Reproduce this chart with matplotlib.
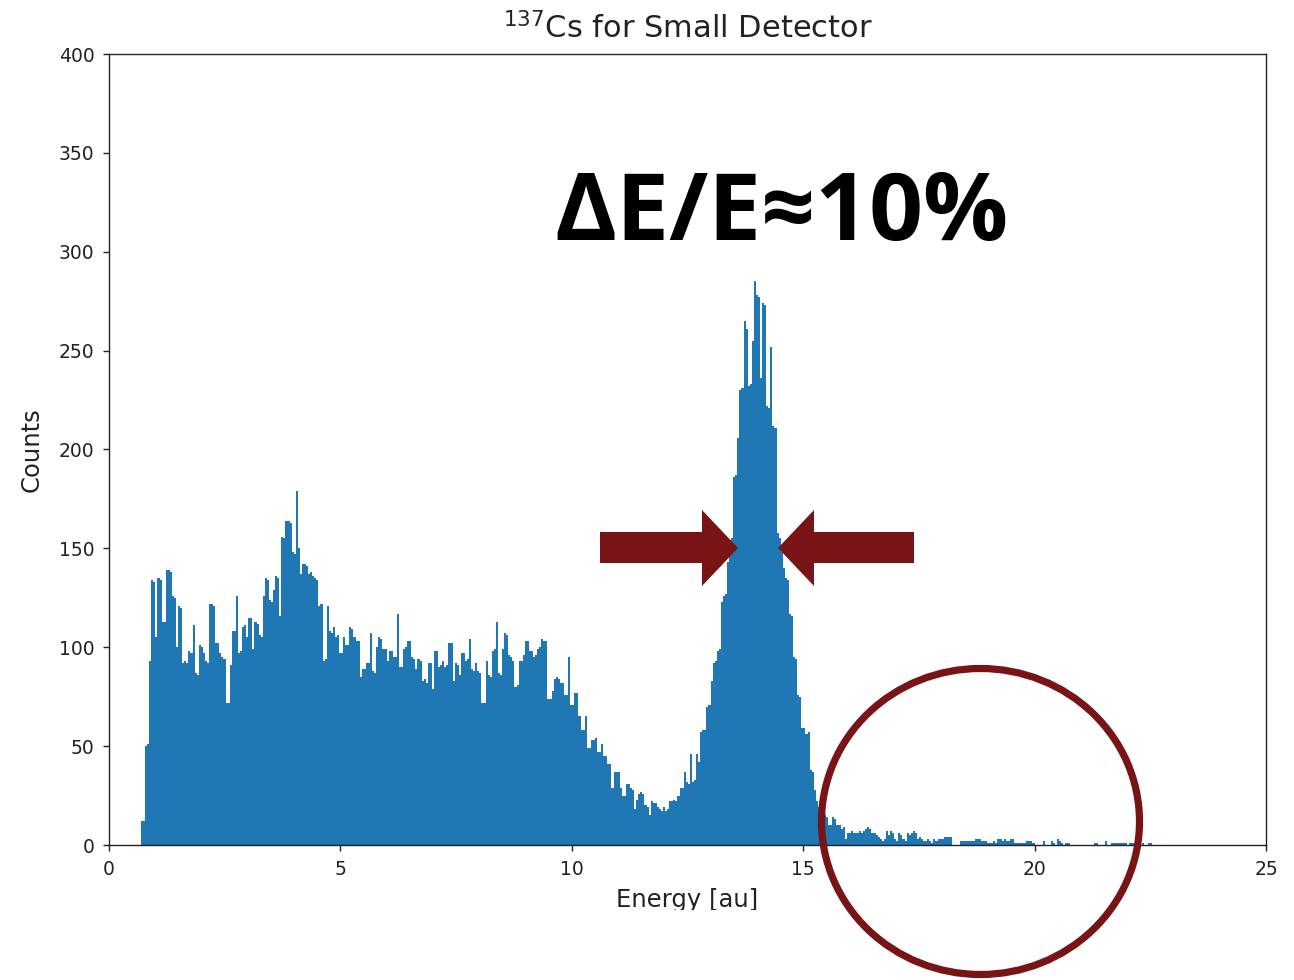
import numpy as np
import matplotlib
matplotlib.use("Agg")
import matplotlib.pyplot as plt
from matplotlib.patches import Polygon, Ellipse, Rectangle

# ---------------- data (counts per bin) ----------------
x_first, x_last = 0.69, 22.54          # range covered by the histogram bins

counts_low = [12, 12, 50, 51, 93, 134, 133, 105, 135, 134, 113, 113, 139, 139, 138,
              126, 125, 100, 121, 120, 92, 93, 92, 98, 97, 111, 87, 86, 101, 100, 97,
              93, 92, 122, 122, 121, 102, 102, 97, 95, 94, 72, 72, 91, 108, 108, 126,
              97, 98, 110, 111, 105, 115, 115, 99, 113, 112, 106, 105, 126, 135, 134,
              124, 123, 129, 136, 135, 116, 156, 155, 164, 164, 163, 148, 147, 179,
              150, 137, 142]

counts_compton_a = [142, 141, 137, 138, 136, 135, 134, 121, 122, 93,
                    94, 121, 108, 107, 110, 105, 106, 97, 97, 105,
                    101, 101, 110, 109, 105, 103, 103, 85, 89, 89,
                    92, 92, 107, 88, 87, 100, 105, 104, 99, 99,
                    93, 98, 98, 95, 95, 117, 90, 90, 99, 100,
                    103, 103, 95, 94, 89, 94, 93, 83, 84, 82,
                    92, 92, 79, 98, 98, 90, 91, 93, 90, 91,
                    102, 102, 83, 92, 91, 86, 97, 97, 93, 94, 104]

counts_compton_b = [89, 88, 92, 88, 87, 72, 72, 93, 86, 85,
                    98, 99, 113, 87, 86, 99, 107, 106, 96, 95,
                    93, 80, 81, 93, 93, 96, 103, 103, 98, 98,
                    95, 96, 99, 100, 104, 103, 103, 74, 74, 78,
                    84, 85, 84, 82, 82, 76, 76, 95, 71, 71,
                    77, 77, 65, 58, 58, 65, 49, 49, 53, 53,
                    54, 47, 47, 51, 45, 45, 41, 41, 29, 37,
                    37, 37, 29, 25, 25, 31, 31, 29, 28, 18]

counts_peak = [23, 26, 27, 26, 20, 19, 15, 22, 21, 21,
               19, 18, 17, 19, 17, 18, 22, 22, 23, 22,
               25, 29, 29, 37, 32, 31, 46, 32, 33, 46,
               42, 57, 58, 58, 70, 71, 83, 92, 93, 98,
               99, 123, 126, 127, 143, 154, 155, 186, 187, 206,
               230, 231, 265, 261, 232, 233, 255, 285, 278, 277,
               236, 274, 273, 222, 221, 252, 212, 211, 158, 155,
               148, 140, 135, 134, 117, 116, 95, 94, 76, 75,
               59, 59, 56, 57]

counts_tail = [38, 37, 28, 22, 19, 17, 15, 15, 14, 10,
               10, 14, 13, 10, 10, 8, 9, 3, 6, 6,
               7, 6, 6, 6, 7, 6, 7, 8, 9, 8,
               6, 6, 5, 4, 3, 2, 3, 7, 5, 7,
               6, 3, 2, 6, 5, 3, 2, 6, 5, 6,
               7, 6, 3, 4, 3, 2, 2, 3, 2, 1,
               3, 2, 3, 3, 3, 4, 4, 4, 4, 0,
               0, 0, 0, 2, 2, 2, 2, 2, 2, 2,
               3, 3, 3, 2, 2, 2, 1, 1, 1, 2,
               1, 3, 3, 2, 3, 2, 2, 3, 3, 1,
               1, 1, 1, 1, 1, 2, 2, 2, 1, 0,
               0, 0, 0, 2, 0, 0, 0, 2, 1, 0,
               3, 2, 1, 0, 1, 1, 0, 0, 0, 0,
               0, 0, 0, 0, 0, 0, 0, 0, 1, 1,
               0, 0, 0, 2, 0, 0, 1, 1, 1, 1,
               1, 1, 1, 1, 0, 1, 1, 0, 1, 0,
               0, 1, 0, 0, 1, 1]

x_ticks = [0, 5, 10, 15, 20, 25]
y_ticks = [0, 50, 100, 150, 200, 250, 300, 350, 400]
title = r"$^{137}$Cs for Small Detector"
x_label = "Energy [au]"
y_label = "Counts"
note = "ΔE/E≈10%"

# ---------------- figure ----------------
W, H = 1294, 980
fig = plt.figure(figsize=(W / 100, H / 100), dpi=100)
fig.patch.set_facecolor("white")


def fx(x):
    return x / W


def fy(y):
    return 1 - y / H


ax = fig.add_axes([fx(109), fy(845), (1266 - 109) / W, (845 - 54) / H])

counts = np.array(counts_low + counts_compton_a + counts_compton_b + counts_peak + counts_tail, dtype=float)
edges = np.linspace(x_first, x_last, len(counts) + 1)
centers = 0.5 * (edges[:-1] + edges[1:])
ax.hist(centers, bins=edges, weights=counts, color="#1f77b4")

ax.set_xlim(0, 25)
ax.set_ylim(0, 400)
ax.set_xticks(x_ticks)
ax.set_yticks(y_ticks)
ax.tick_params(axis="both", labelsize=13.5, length=4.5, width=1.0, colors="#222222")
ax.tick_params(axis="y", pad=6)
ax.tick_params(axis="x", pad=6)
for s in ax.spines.values():
    s.set_linewidth(1.0)
    s.set_color("#222222")

ax.set_title(title, fontsize=22, pad=11, color="#222222")
ax.set_xlabel(x_label, fontsize=17.5, labelpad=7, color="#222222")
ax.set_ylabel(y_label, fontsize=17.5, labelpad=11, color="#222222")

# white band: the original screenshot is cut off below the x label
fig.add_artist(Rectangle((0, 0), 1, fy(910), transform=fig.transFigure,
                         facecolor="white", edgecolor="none", zorder=5))

red = "#781416"
# arrows pointing at the peak's half maximum
left_arrow = [(600, 532), (702, 532), (702, 510), (738, 548), (702, 586), (702, 563), (600, 563)]
right_arrow = [(914, 532), (814, 532), (814, 510), (778, 548), (814, 586), (814, 563), (914, 563)]
for pts in (left_arrow, right_arrow):
    fig.add_artist(Polygon([(fx(a), fy(b)) for a, b in pts], closed=True,
                           transform=fig.transFigure, facecolor=red, edgecolor="none", zorder=6))

# circle around the high-energy tail
fig.add_artist(Ellipse((fx(980.5), fy(821.5)), width=318 / W, height=306 / H,
                       transform=fig.transFigure, fill=False, edgecolor=red,
                       linewidth=5.2, zorder=6))

fig.text(fx(554), fy(240), note, fontsize=68, fontweight="bold",
         family=["Open Sans", "DejaVu Sans"], color="black",
         ha="left", va="baseline", zorder=7)

fig.savefig("out.png", dpi=100, facecolor="white")
